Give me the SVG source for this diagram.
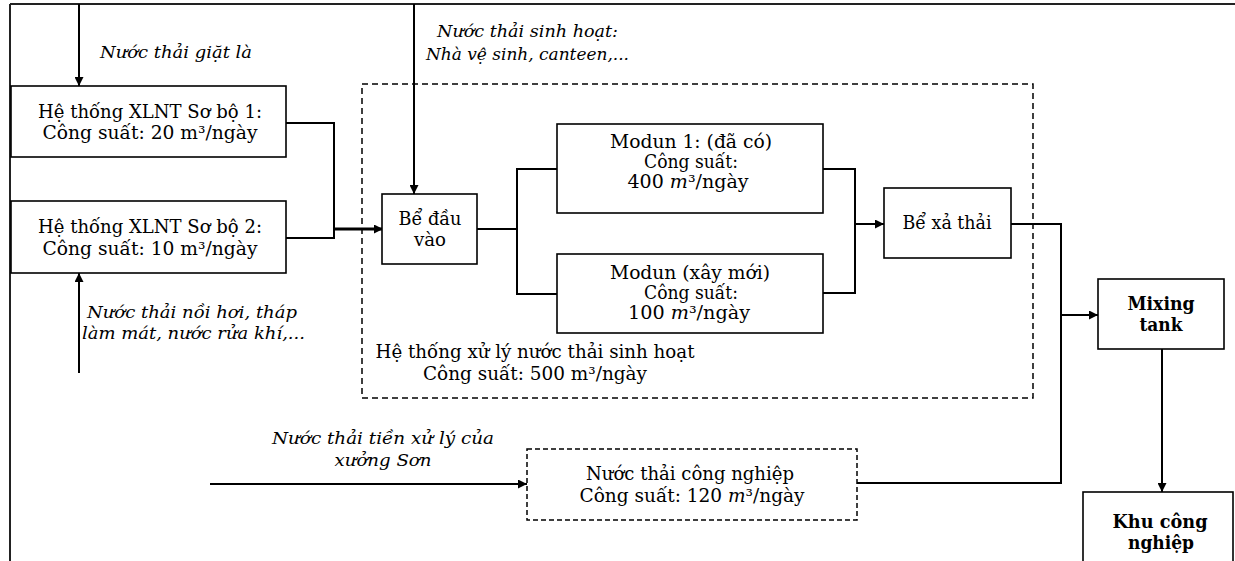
<svg xmlns="http://www.w3.org/2000/svg" width="1235" height="561" viewBox="0 0 1235 561">
  <defs>
    <marker id="arrow" viewBox="0 0 10 10" refX="10" refY="5" markerWidth="9" markerHeight="9" markerUnits="userSpaceOnUse" orient="auto">
      <path d="M0,0 L10,5 L0,10 z" fill="#000"/>
    </marker>
    <style>
      .box { fill: #fff; stroke: #000; stroke-width: 1.6; }
      .dash { fill: none; stroke: #000; stroke-width: 1.5; stroke-dasharray: 6 4; }
      .line { fill: none; stroke: #000; stroke-width: 2; }
      .thick { fill: none; stroke: #000; stroke-width: 3; }
      .t { font-family: "DejaVu Serif", "Liberation Serif", serif; font-size: 18px; fill: #000; text-anchor: middle; }
      .i { font-family: "DejaVu Serif", "Liberation Serif", serif; font-size: 16px; font-style: italic; fill: #000; }
      .b { font-weight: bold; }
      .m { font-style: italic; }
    </style>
  </defs>

  <rect width="1235" height="561" fill="#fff"/>

  <!-- outer frame: top and left rules -->
  <path d="M10,4 H1235 M10,4 V561" fill="none" stroke="#222" stroke-width="2"/>

  <!-- dashed enclosures -->
  <g id="domestic-system">
    <rect class="dash" x="362" y="84" width="671" height="314"/>
    <text class="t" x="535" y="358" textLength="319" lengthAdjust="spacingAndGlyphs">Hệ thống xử lý nước thải sinh hoạt</text>
    <text class="t" x="535" y="380" textLength="224" lengthAdjust="spacingAndGlyphs">Công suất: 500 m³/ngày</text>
  </g>

  <g id="connectors">
    <!-- inflow from top to pre-treatment 1 -->
    <line class="line" x1="79" y1="4" x2="79" y2="86" marker-end="url(#arrow)"/>
    <!-- inflow from below to pre-treatment 2 -->
    <line class="line" x1="79" y1="373" x2="79" y2="273" marker-end="url(#arrow)"/>
    <!-- domestic inflow from top -->
    <line class="line" x1="414" y1="4" x2="414" y2="194" marker-end="url(#arrow)"/>
    <!-- pre-treatment outputs merge -->
    <path class="line" d="M286,123 H334 V238 H286"/>
    <line class="thick" x1="334" y1="229" x2="383" y2="229" marker-end="url(#arrow)"/>
    <!-- split to modules -->
    <path class="line" d="M477,229 H517 M557,169 H517 V294 H557"/>
    <!-- merge from modules -->
    <path class="line" d="M823,169 H855 V293 H823"/>
    <line class="line" x1="855" y1="224" x2="884" y2="224" marker-end="url(#arrow)"/>
    <!-- discharge to mixing tank -->
    <path class="line" d="M1011,224 H1061 V483 H857"/>
    <line class="line" x1="1061" y1="315" x2="1098" y2="315" marker-end="url(#arrow)"/>
    <!-- mixing tank to industrial zone -->
    <line class="line" x1="1162" y1="349" x2="1162" y2="492" marker-end="url(#arrow)"/>
    <!-- paint shop inflow -->
    <line class="line" x1="210" y1="484" x2="527" y2="484" marker-end="url(#arrow)"/>
  </g>

  <!-- flow labels -->
  <g id="labels">
    <text class="i" x="100" y="58" textLength="152" lengthAdjust="spacingAndGlyphs">Nước thải giặt là</text>
    <text class="i" x="87" y="318" textLength="210" lengthAdjust="spacingAndGlyphs">Nước thải nồi hơi, tháp</text>
    <text class="i" x="82" y="339" textLength="223" lengthAdjust="spacingAndGlyphs">làm mát, nước rửa khí,...</text>
    <text class="i" x="437" y="37" textLength="181" lengthAdjust="spacingAndGlyphs">Nước thải sinh hoạt:</text>
    <text class="i" x="426" y="60" textLength="203" lengthAdjust="spacingAndGlyphs">Nhà vệ sinh, canteen,...</text>
    <text class="i" x="383" y="444" text-anchor="middle" textLength="222" lengthAdjust="spacingAndGlyphs">Nước thải tiền xử lý của</text>
    <text class="i" x="383" y="466" text-anchor="middle" textLength="97" lengthAdjust="spacingAndGlyphs">xưởng Sơn</text>
  </g>

  <g id="pretreat-1">
    <rect class="box" x="11" y="86" width="275" height="71"/>
    <text class="t" x="150" y="118" textLength="224" lengthAdjust="spacingAndGlyphs">Hệ thống XLNT Sơ bộ 1:</text>
    <text class="t" x="150" y="139" textLength="215" lengthAdjust="spacingAndGlyphs">Công suất: 20 m³/ngày</text>
  </g>

  <g id="pretreat-2">
    <rect class="box" x="11" y="201" width="275" height="72"/>
    <text class="t" x="150" y="233" textLength="224" lengthAdjust="spacingAndGlyphs">Hệ thống XLNT Sơ bộ 2:</text>
    <text class="t" x="150" y="255" textLength="215" lengthAdjust="spacingAndGlyphs">Công suất: 10 m³/ngày</text>
  </g>

  <g id="inlet-tank">
    <rect class="box" x="382" y="194" width="95" height="70"/>
    <text class="t" x="430" y="225" textLength="63" lengthAdjust="spacingAndGlyphs">Bể đầu</text>
    <text class="t" x="430" y="246" textLength="32" lengthAdjust="spacingAndGlyphs">vào</text>
  </g>

  <g id="module-1">
    <rect class="box" x="557" y="124" width="266" height="89"/>
    <text class="t" x="691" y="148" textLength="162" lengthAdjust="spacingAndGlyphs">Modun 1: (đã có)</text>
    <text class="t" x="691" y="168" textLength="94" lengthAdjust="spacingAndGlyphs">Công suất:</text>
    <text class="t" x="688" y="188" textLength="121" lengthAdjust="spacingAndGlyphs">400 <tspan class="m">m</tspan>³/ngày</text>
  </g>

  <g id="module-2">
    <rect class="box" x="557" y="254" width="266" height="79"/>
    <text class="t" x="690" y="279" textLength="160" lengthAdjust="spacingAndGlyphs">Modun (xây mới)</text>
    <text class="t" x="691" y="299" textLength="94" lengthAdjust="spacingAndGlyphs">Công suất:</text>
    <text class="t" x="689" y="319" textLength="122" lengthAdjust="spacingAndGlyphs">100 <tspan class="m">m</tspan>³/ngày</text>
  </g>

  <g id="discharge-tank">
    <rect class="box" x="884" y="188" width="127" height="70"/>
    <text class="t" x="947" y="229" textLength="89" lengthAdjust="spacingAndGlyphs">Bể xả thải</text>
  </g>

  <g id="mixing-tank">
    <rect class="box" x="1098" y="279" width="126" height="70"/>
    <text class="t b" x="1161" y="310" textLength="67" lengthAdjust="spacingAndGlyphs">Mixing</text>
    <text class="t b" x="1161" y="331" textLength="43" lengthAdjust="spacingAndGlyphs">tank</text>
  </g>

  <g id="industrial-zone">
    <rect class="box" x="1083" y="492" width="150" height="80"/>
    <text class="t b" x="1160" y="528" textLength="95" lengthAdjust="spacingAndGlyphs">Khu công</text>
    <text class="t b" x="1161" y="549" textLength="66" lengthAdjust="spacingAndGlyphs">nghiệp</text>
  </g>

  <g id="industrial-wastewater">
    <rect class="dash" x="527" y="449" width="330" height="71" style="stroke-dasharray:5 3"/>
    <text class="t" x="690" y="480" textLength="208" lengthAdjust="spacingAndGlyphs">Nước thải công nghiệp</text>
    <text class="t" x="692" y="502" textLength="225" lengthAdjust="spacingAndGlyphs">Công suất: 120 <tspan class="m">m</tspan>³/ngày</text>
  </g>
</svg>
